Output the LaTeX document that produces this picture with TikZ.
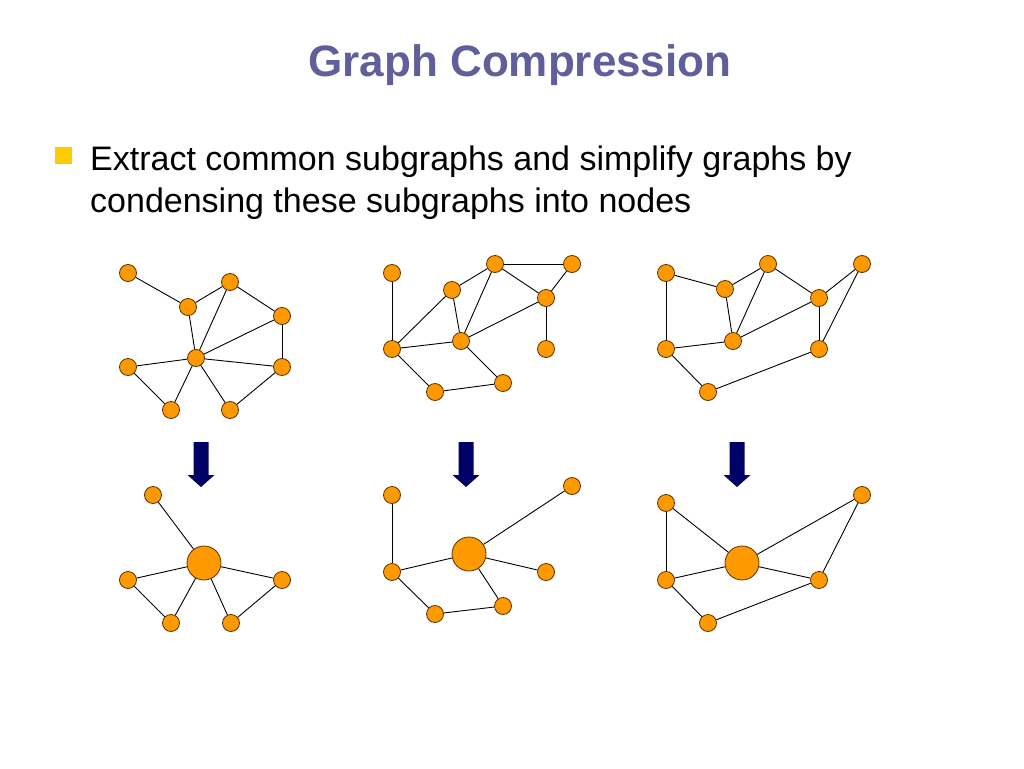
\documentclass[tikz,border=0pt]{standalone}
\usepackage{fontspec}
\setmainfont{Liberation Sans}
\definecolor{titleblue}{RGB}{95,96,153}
\definecolor{nodeorange}{RGB}{255,153,0}
\definecolor{nodeedge}{RGB}{90,50,0}
\definecolor{arrownavy}{RGB}{0,0,102}
\definecolor{bulletyellow}{RGB}{255,204,0}
\tikzset{
    vtx/.style={circle,fill=nodeorange,draw=nodeedge,line width=0.8pt,minimum size=17pt,inner sep=0pt},
    bigvtx/.style={vtx,minimum size=34pt},
    link/.style={line width=0.9pt},
    bodytext/.style={anchor=base west,inner sep=0pt,font=\fontsize{34}{42}\selectfont}
}
\begin{document}
\begin{tikzpicture}[x=1pt,y=-1pt]
                \useasboundingbox (0,0) rectangle (1024,768);

                \node[text=titleblue,font=\fontsize{44}{50}\selectfont\bfseries] (title) at (520,65) {Graph Compression};
                \fill[bulletyellow] (55,147) rectangle (72,164);
                \node[bodytext] (body1) at (90,170) {Extract common subgraphs and simplify graphs by};
                \node[bodytext] (body2) at (90,212) {condensing these subgraphs into nodes};

                % top row
                \foreach \n/\x/\y in {a1/128/273,a2/188/307,a3/230/282,a4/282/316,a5/282/367,
                                      a6/196/358,a7/128/367,a8/171/410,a9/230/410}
                    {
                        \node[vtx] (\n) at (\x,\y) {};
                    }
                \foreach \u/\v in {a1/a2,a2/a3,a3/a4,a4/a5,a2/a6,a3/a6,a4/a6,a5/a6,a7/a6,a7/a8,a8/a6,a9/a6,a9/a5}
                    {
                        \draw[link] (\u) -- (\v);
                    }

                \foreach \n/\x/\y in {b1/392/273,b2/495/264,b3/572/264,b4/452/290,b5/546/298,
                                      b6/392/349,b7/461/341,b8/546/349,b9/435/392,b10/503/383}
                    {
                        \node[vtx] (\n) at (\x,\y) {};
                    }
                \foreach \u/\v in {b1/b6,b2/b3,b2/b4,b2/b5,b3/b5,b5/b8,b4/b6,b4/b7,b2/b7,b5/b7,b6/b7,b6/b9,b7/b10,b9/b10}
                    {
                        \draw[link] (\u) -- (\v);
                    }

                \foreach \n/\x/\y in {c1/666/273,c2/768/264,c3/862/264,c4/725/289,c5/819/298,
                                      c6/666/349,c7/733/341,c8/819/349,c9/708/392}
                    {
                        \node[vtx] (\n) at (\x,\y) {};
                    }
                \foreach \u/\v in {c1/c4,c1/c6,c4/c2,c2/c5,c3/c5,c3/c8,c5/c8,c4/c7,c2/c7,c5/c7,c6/c7,c6/c9,c9/c8}
                    {
                        \draw[link] (\u) -- (\v);
                    }

                % arrows
                \foreach \x in {201,466,737}
                    {
                        \fill[arrownavy] (\x-7.5,442) -- (\x+7.5,442) -- (\x+7.5,475) -- (\x+13.5,475)
                            -- (\x,487) -- (\x-13.5,475) -- (\x-7.5,475) -- cycle;
                    }

                % bottom row
                \node[bigvtx] (d0) at (204,563) {};
                \foreach \n/\x/\y in {d1/153/495,d2/128/580,d3/282/580,d4/171/623,d5/231/623}
                    {
                        \node[vtx] (\n) at (\x,\y) {};
                    }
                \foreach \u/\v in {d1/d0,d2/d0,d3/d0,d4/d0,d5/d0,d2/d4,d5/d3}
                    {
                        \draw[link] (\u) -- (\v);
                    }

                \node[bigvtx] (e0) at (469,554) {};
                \foreach \n/\x/\y in {e1/392/495,e2/572/486,e3/392/572,e4/546/572,e5/435/614,e6/503/606}
                    {
                        \node[vtx] (\n) at (\x,\y) {};
                    }
                \foreach \u/\v in {e1/e3,e2/e0,e3/e0,e4/e0,e6/e0,e3/e5,e5/e6}
                    {
                        \draw[link] (\u) -- (\v);
                    }

                \node[bigvtx] (f0) at (742,563) {};
                \foreach \n/\x/\y in {f1/666/503,f2/862/495,f3/666/580,f4/819/580,f5/708/623}
                    {
                        \node[vtx] (\n) at (\x,\y) {};
                    }
                \foreach \u/\v in {f1/f3,f1/f0,f2/f0,f2/f4,f3/f0,f4/f0,f3/f5,f5/f4}
                    {
                        \draw[link] (\u) -- (\v);
                    }
            \end{tikzpicture}
\end{document}
